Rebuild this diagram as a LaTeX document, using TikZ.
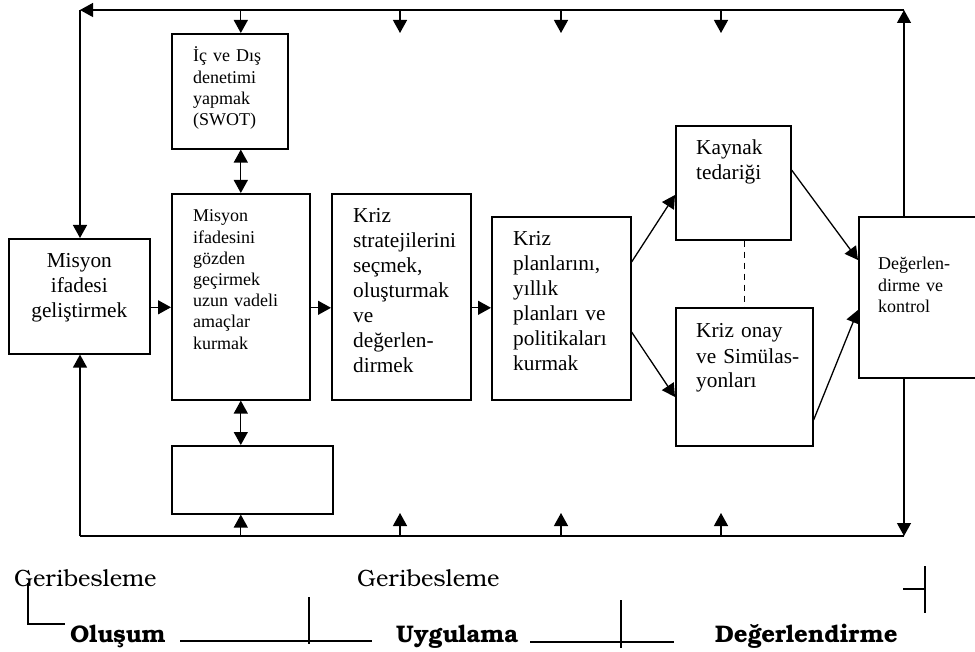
\documentclass[tikz,border=0pt]{standalone}
\usepackage{fontspec}
\setmainfont{Liberation Serif}
\newfontfamily\legendfont{TeX Gyre Bonum}
\usetikzlibrary{arrows.meta,positioning}

\begin{document}
\begin{tikzpicture}[x=1pt, y=-1pt]
    % Define styles
    \tikzstyle{box} = [rectangle, draw=black, line width=1.6pt, anchor=north west, inner sep=0pt]
    \tikzstyle{bigtext} = [anchor=base west, inner sep=0pt, text width=130pt, align=left, font=\fontsize{21.3}{25}\selectfont]
    \tikzstyle{smalltext} = [anchor=base west, inner sep=0pt, text width=115pt, align=left, font=\fontsize{18}{21.2}\selectfont]
    \tikzstyle{legend} = [anchor=base west, inner sep=0pt, font=\legendfont\fontsize{23.6}{28}\selectfont]
    \tikzstyle{legendbold} = [anchor=base west, inner sep=0pt, font=\legendfont\bfseries\fontsize{24}{28}\selectfont]
    \tikzstyle{arrow} = [line width=1.3pt, -{Triangle[length=13pt,width=14pt]}]
    \tikzstyle{darrow} = [line width=1.3pt, {Triangle[length=13pt,width=14pt]}-{Triangle[length=13pt,width=14pt]}]
    \tikzstyle{line} = [line width=1.3pt]

    \useasboundingbox (0,0) rectangle (975,652);

    % Boxes
    \node (misyon) [box, minimum width=141pt, minimum height=115pt] at (8,238) {};
    \node (swot) [box, minimum width=116pt, minimum height=115pt] at (171,33) {};
    \node (mis2) [box, minimum width=138pt, minimum height=206pt] at (171,193) {};
    \node (kriz) [box, minimum width=139pt, minimum height=206pt] at (331,193) {};
    \node (plan) [box, minimum width=139pt, minimum height=183pt] at (491,216) {};
    \node (kaynak) [box, minimum width=115pt, minimum height=114pt] at (675,125) {};
    \node (onay) [box, minimum width=137pt, minimum height=138pt] at (675,307) {};
    \node (deger) [box, minimum width=132pt, minimum height=161pt] at (858,216) {};
    \node (empty) [box, minimum width=161pt, minimum height=68pt] at (171,445) {};

    % Box texts
    \node (misyont) [bigtext, anchor=base, align=center] at ([yshift=-30pt]misyon.north) {Misyon\\ifadesi\\geliştirmek};
    \node (swott) [smalltext] at ([shift={(22pt,-29pt)}]swot.north west) {İç ve Dış\\denetimi\\yapmak\\(SWOT)};
    \node (mis2t) [smalltext] at ([shift={(22pt,-29pt)}]mis2.north west) {Misyon\\ifadesini\\gözden\\geçirmek\\uzun vadeli\\amaçlar\\kurmak};
    \node (krizt) [bigtext] at ([shift={(22pt,-30pt)}]kriz.north west) {Kriz\\stratejilerini\\seçmek,\\oluşturmak\\ve\\değerlen-\\dirmek};
    \node (plant) [bigtext] at ([shift={(22pt,-30pt)}]plan.north west) {Kriz\\planlarını,\\yıllık\\planları ve\\politikaları\\kurmak};
    \node (kaynakt) [bigtext] at ([shift={(21pt,-30pt)}]kaynak.north west) {Kaynak\\tedariği};
    \node (onayt) [bigtext] at ([shift={(21pt,-31pt)}]onay.north west) {Kriz onay\\ve Simülas-\\yonları};
    \node (degert) [smalltext] at ([shift={(20pt,-54pt)}]deger.north west) {Değerlen-\\dirme ve\\kontrol};

    % Feedback loop corners
    \coordinate (tl) at (80,10);
    \coordinate (tr) at (904,10);
    \coordinate (bl) at (80,536);
    \coordinate (br) at (904,536);

    % Arrows
    \draw [arrow] ([yshift=-11pt]misyon.east) -- ([yshift=-11pt]misyon.east -| mis2.west);
    \draw [arrow] ([yshift=-11pt]mis2.east) -- ([yshift=-11pt]mis2.east -| kriz.west);
    \draw [arrow] ([yshift=-11pt]kriz.east) -- ([yshift=-11pt]kriz.east -| plan.west);
    \draw [arrow] ([yshift=-46pt]plan.north east) -- ([yshift=-70pt]kaynak.north west);
    \draw [arrow] ([yshift=-116pt]plan.north east) -- ([yshift=-90pt]onay.north west);
    \draw [arrow] ([yshift=-45pt]kaynak.north east) -- ([yshift=-44pt]deger.north west);
    \draw [arrow] ([yshift=-113pt]onay.north east) -- ([yshift=-94pt]deger.north west);
    \draw [line, line width=1.1pt, dash pattern=on 6pt off 5pt] ([xshift=11pt]kaynak.south) -- ([xshift=11pt]kaynak.south |- onay.north);
    \draw [darrow] (swot.south -| mis2.north) -- (mis2.north);
    \draw [darrow] (mis2.south) -- (mis2.south |- empty.north);

    % Feedback lines
    \draw [arrow] (tr |- deger.north) -- (tr);
    \draw [arrow] (tr) -- (tl);
    \draw [arrow] (tl) -- (tl |- misyon.north);
    \draw [arrow] (br |- deger.south) -- (br);
    \draw [line] (br) -- (bl);
    \draw [arrow] (bl) -- (bl |- misyon.south);
    \draw [arrow] (mis2.north |- tl) -- (mis2.north |- swot.north);
    \draw [arrow] (mis2.south |- bl) -- (mis2.south |- empty.south);
    \foreach \x in {400,561,721} {
        \coordinate (top\x) at (\x,10);
        \coordinate (bot\x) at (\x,536);
        \draw [arrow] (top\x) -- ++(0,23);
        \draw [arrow] (bot\x) -- ++(0,-23);
    }

    % Legend
    \node (geri1) [legend] at (14,586) {Geribesleme};
    \node (geri2) [legend] at (357,586) {Geribesleme};
    \node (olusum) [legendbold] at (70,642) {Oluşum};
    \node (uygulama) [legendbold] at (396,642) {Uygulama};
    \node (degerlendirme) [legendbold] at (715,642) {Değerlendirme};

    \draw [line] (28,583) |- (65,624);
    \draw [line] (180,641) -- (372,641);
    \draw [line] (309,597) -- (309,644);
    \draw [line] (530,642) -- (674,642);
    \draw [line] (621,600) -- (621,648);
    \draw [line] (925,566) -- (925,613);
    \draw [line] (903,589) -- (925,589);
\end{tikzpicture}
\end{document}
